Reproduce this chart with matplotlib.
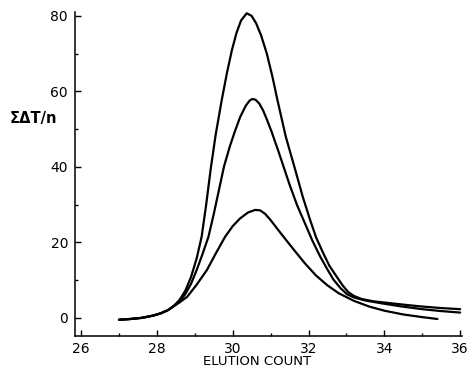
import matplotlib
matplotlib.use('Agg')
import matplotlib.pyplot as plt
from matplotlib.ticker import MultipleLocator

# values (elution count, sum dT/n)
x_top = [27.0, 27.3, 27.6, 27.9, 28.1, 28.3, 28.45, 28.6, 28.75, 28.9, 29.05,
         29.18, 29.3, 29.42, 29.55, 29.71, 29.85, 29.98, 30.1, 30.22, 30.37,
         30.5, 30.62, 30.75, 30.9, 31.05, 31.18, 31.4, 31.65, 31.85, 32.04,
         32.2, 32.39, 32.55, 32.75, 32.9, 33.05, 33.2, 33.4, 33.7, 34.15,
         34.6, 35.0, 35.5, 36.0]
y_top = [-0.5, -0.3, 0.0, 0.6, 1.2, 2.1, 3.2, 4.8, 7.2, 10.8, 15.8,
         21.5, 30.0, 39.5, 48.5, 57.7, 65.0, 71.0, 75.5, 78.8, 80.7,
         80.0, 78.0, 74.8, 70.0, 63.8, 57.7, 48.0, 39.2, 32.0, 26.0,
         21.3, 17.1, 13.8, 10.8, 8.6, 6.8, 5.8, 5.0, 4.4, 3.9,
         3.4, 3.0, 2.6, 2.3]

x_mid = [27.0, 27.3, 27.6, 27.9, 28.1, 28.3, 28.45, 28.6, 28.75, 28.9, 29.05,
         29.2, 29.36, 29.5, 29.65, 29.77, 29.92, 30.06, 30.2, 30.35, 30.45,
         30.52, 30.6, 30.7, 30.8, 30.9, 31.03, 31.2, 31.35, 31.5, 31.7,
         31.95, 32.1, 32.31, 32.5, 32.66, 32.85, 33.01, 33.2, 33.5, 33.9,
         34.4, 35.0, 35.5, 36.0]
y_mid = [-0.5, -0.3, 0.0, 0.6, 1.2, 2.1, 3.2, 4.4, 6.3, 9.0, 12.7,
         16.8, 21.5, 27.5, 34.5, 40.1, 45.3, 49.5, 53.3, 56.3, 57.6,
         58.0, 57.8, 56.8, 55.0, 52.6, 49.2, 44.3, 39.8, 35.3, 29.8,
         24.0, 20.5, 16.2, 12.8, 10.1, 7.8, 6.3, 5.4, 4.6, 3.9,
         3.1, 2.3, 1.8, 1.4]

x_low = [27.0, 27.3, 27.6, 27.9, 28.1, 28.3, 28.45, 28.6, 28.8, 29.05, 29.32,
         29.55, 29.8, 30.0, 30.19, 30.4, 30.59, 30.72, 30.85, 31.0, 31.3,
         31.6, 31.9, 32.2, 32.5, 32.8, 33.2, 33.6, 34.0, 34.5, 35.0, 35.4]
y_low = [-0.5, -0.3, 0.0, 0.6, 1.2, 2.1, 3.1, 4.1, 5.6, 8.8, 12.7,
         17.0, 21.5, 24.3, 26.3, 27.9, 28.6, 28.5, 27.6, 25.9, 22.0,
         18.2, 14.5, 11.2, 8.6, 6.5, 4.5, 3.0, 1.9, 0.9, 0.2, -0.3]

x_ticks = [26, 28, 30, 32, 34, 36]
y_ticks = [0, 20, 40, 60, 80]

fig = plt.figure(figsize=(4.68, 3.68), dpi=100)
ax = fig.add_axes([0.1603, 0.087, 0.827, 0.88])

for xs, ys in [(x_top, y_top), (x_mid, y_mid), (x_low, y_low)]:
    ax.plot(xs, ys, color='black', lw=1.6, solid_joinstyle='round',
            solid_capstyle='round')

ax.set_xlim(25.84, 36.05)
ax.set_ylim(-4.8, 81)
ax.set_xticks(x_ticks)
ax.set_yticks(y_ticks)
ax.xaxis.set_minor_locator(MultipleLocator(1))
ax.yaxis.set_minor_locator(MultipleLocator(10))

ax.spines['top'].set_visible(False)
ax.spines['right'].set_visible(False)
ax.spines['left'].set_linewidth(1.1)
ax.spines['bottom'].set_linewidth(1.1)

ax.tick_params(which='major', direction='in', length=4, width=1,
               labelsize=10, colors='black')
ax.tick_params(axis='x', which='major', pad=4)
ax.tick_params(axis='y', which='major', pad=5)
ax.tick_params(which='minor', direction='in', length=2.5, width=1)

fig.text(0.549, 0.0, 'ELUTION COUNT', fontsize=9.5, ha='center', va='bottom')
fig.text(10 / 468, 0.679, 'ΣΔT/n', fontsize=10.5, fontweight='bold',
         ha='left', va='center')

fig.savefig('out.png', dpi=100)
